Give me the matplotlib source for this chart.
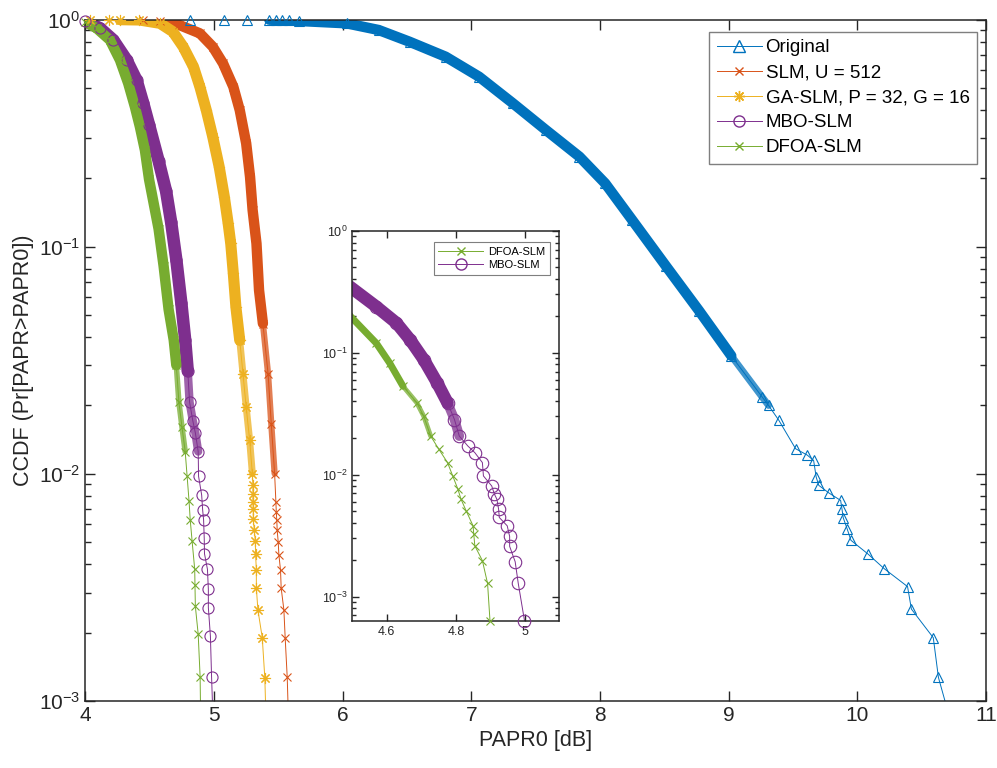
import numpy as np
import matplotlib
matplotlib.use('Agg')
from matplotlib import pyplot as plt
from matplotlib.lines import Line2D

plt.rcParams['font.family'] = ['Liberation Sans', 'DejaVu Sans']
plt.rcParams['mathtext.default'] = 'regular'

# CCDF curves (PAPR0 in dB, CCDF)
orig_x = [4.81, 5.08, 5.26, 5.43, 5.48, 5.53, 5.58, 5.66, 6.03, 6.28, 6.52, 6.80, 7.06, 7.32, 7.58, 7.84, 8.04,
          8.25, 8.51, 8.77, 9.02, 9.26, 9.31, 9.39, 9.52, 9.61, 9.66, 9.68, 9.70, 9.78, 9.87, 9.88,
          9.89, 9.92, 9.95, 10.08, 10.21, 10.39, 10.42, 10.59, 10.63, 10.78]
orig_y = [1.0, 1.0, 1.0, 0.998, 0.997, 0.995, 0.992, 0.985, 0.962, 0.899, 0.798, 0.686, 0.560, 0.429, 0.326, 0.249, 0.190,
          0.131, 0.0825, 0.0522, 0.0331, 0.0218, 0.0200, 0.0172, 0.0129, 0.0121, 0.01146, 0.00968, 0.0089, 0.00823, 0.00764, 0.00703,
          0.00641, 0.00574, 0.0051, 0.00445, 0.00382, 0.00319, 0.00254, 0.0019, 0.00127, 0.00063]

slm_x = [4.45, 4.58, 4.73, 4.89, 4.99, 5.07, 5.15, 5.20, 5.25, 5.28, 5.30, 5.33, 5.35, 5.38, 5.42,
         5.445, 5.471, 5.481, 5.484, 5.488, 5.491, 5.499, 5.504, 5.517, 5.522, 5.543, 5.553, 5.569, 5.585]
slm_y = [0.998, 0.985, 0.946, 0.869, 0.759, 0.641, 0.506, 0.399, 0.285, 0.203, 0.145, 0.1033, 0.0643, 0.0459, 0.0276,
         0.01663, 0.01002, 0.00751, 0.00679, 0.00624, 0.00564, 0.00501, 0.00441, 0.00376, 0.00314, 0.00252, 0.0019, 0.00127, 0.00063]

ga_x = [4.036, 4.186, 4.27, 4.42, 4.58, 4.68, 4.76, 4.84, 4.89, 4.94, 4.99, 5.04, 5.08, 5.11, 5.13,
        5.15, 5.17, 5.20, 5.225, 5.25, 5.277, 5.298, 5.302, 5.302, 5.302, 5.305, 5.305, 5.313, 5.321, 5.323,
        5.329, 5.329, 5.341, 5.375, 5.395, 5.41]
ga_y = [1.0, 1.0, 0.998, 0.995, 0.962, 0.884, 0.759, 0.620, 0.506, 0.399, 0.305, 0.225, 0.166, 0.1265, 0.1033,
        0.0762, 0.0543, 0.0387, 0.0276, 0.01968, 0.01405, 0.01002, 0.0089, 0.00818, 0.00751, 0.00698, 0.00631, 0.00564, 0.00506, 0.00442,
        0.00379, 0.00315, 0.00252, 0.0019, 0.00126, 0.00063]

mbo_x = [4.0, 4.114, 4.217, 4.321, 4.398, 4.450, 4.495, 4.569, 4.628, 4.667, 4.707, 4.746, 4.776, 4.796, 4.810,
         4.835, 4.855, 4.877, 4.880, 4.904, 4.912, 4.919, 4.924, 4.926, 4.949, 4.956, 4.956, 4.972, 4.981, 4.999]
mbo_y = [0.985, 0.915, 0.812, 0.663, 0.541, 0.428, 0.344, 0.239, 0.175, 0.128, 0.0877, 0.0565, 0.0388, 0.0283, 0.0207,
         0.01714, 0.01514, 0.01254, 0.00975, 0.00807, 0.0069, 0.00628, 0.0052, 0.00445, 0.0038, 0.00311, 0.00258, 0.00193, 0.00128, 0.000635]

dfoa_x = [4.0, 4.088, 4.191, 4.269, 4.333, 4.385, 4.424, 4.463, 4.495, 4.569, 4.608, 4.647, 4.687, 4.707, 4.727,
          4.751, 4.776, 4.791, 4.806, 4.815, 4.830, 4.850, 4.852, 4.855, 4.877, 4.892, 4.899]
dfoa_y = [0.975, 0.915, 0.812, 0.663, 0.524, 0.413, 0.337, 0.266, 0.198, 0.120, 0.0824, 0.0530, 0.0388, 0.0301, 0.0207,
          0.0161, 0.01254, 0.00975, 0.00759, 0.00628, 0.00504, 0.0038, 0.00325, 0.00261, 0.00197, 0.00128, 0.000635]

labels = ['Original', 'SLM, U = 512', 'GA-SLM, P = 32, G = 16', 'MBO-SLM', 'DFOA-SLM']
inset_xticks = [4.6, 4.8, 5.0]
inset_xticklabels = ['4.6', '4.8', '5']

blue, red, yellow, purple, green = '#0072BD', '#D95319', '#EDB120', '#7E2F8E', '#77AC30'
asterisk = (8, 2, 0)
txt = '#262626'


def draw(ax, x, y, color, marker, ms, band, tail, xlim, ylim):
    x = np.array(x)
    y = np.array(y)
    ax.plot(x, y, '-', color=color, lw=0.7, zorder=2)
    # dense runs of markers show as a solid band, thinning out lower down
    m = (y >= tail[0]) & (y < 0.999)
    ax.plot(x[m], y[m], '-', color=color, lw=tail[1], alpha=0.75, solid_capstyle='round', zorder=2)
    m = (y >= band[0]) & (y < 0.999)
    ax.plot(x[m], y[m], '-', color=color, lw=band[1], solid_capstyle='round', zorder=2)
    inside = (y >= ylim[0]) & (y <= ylim[1]) & (x >= xlim[0]) & (x <= xlim[1])
    ax.plot(x[inside], y[inside], ls='none', marker=marker, ms=ms, mfc='none', mec=color,
            mew=0.8, clip_on=False, zorder=3)


def style(ax, fs, major, minor):
    for s in ax.spines.values():
        s.set_color(txt)
        s.set_linewidth(1.1)
    ax.tick_params(which='both', direction='in', top=True, right=True, colors=txt,
                   labelsize=fs, width=1.0)
    ax.tick_params(which='major', length=major)
    ax.tick_params(which='minor', length=minor)


fig = plt.figure(figsize=(9.97, 7.68), dpi=100)
ax = fig.add_axes([0.0856, 0.0872, 0.9034, 0.8874])
xl, yl = (4, 11), (1e-3, 1)
draw(ax, orig_x, orig_y, blue, '^', 7, (0.03, 7.5), (0.02, 5), xl, yl)
draw(ax, slm_x, slm_y, red, 'x', 6, (0.03, 7.5), (0.009, 4.5), xl, yl)
draw(ax, ga_x, ga_y, yellow, asterisk, 8, (0.03, 8), (0.009, 5), xl, yl)
draw(ax, mbo_x, mbo_y, purple, 'o', 8, (0.025, 9), (0.011, 6), xl, yl)
draw(ax, dfoa_x, dfoa_y, green, 'x', 6, (0.03, 7.5), (0.011, 4), xl, yl)
ax.set_yscale('log')
ax.set_xlim(*xl)
ax.set_ylim(*yl)
ax.set_xticks(range(4, 12))
style(ax, 15, 7, 4)
ax.set_xlabel('PAPR0 [dB]', fontsize=15.5, color=txt)
ax.set_ylabel('CCDF (Pr[PAPR>PAPR0])', fontsize=15.5, color=txt)

handles = [Line2D([], [], color=c, lw=0.7, marker=mk, ms=s, mfc='none', mec=c)
           for c, mk, s in [(blue, '^', 8), (red, 'x', 6), (yellow, asterisk, 8), (purple, 'o', 8), (green, 'x', 6)]]
leg = ax.legend(handles, labels, loc='upper right', bbox_to_anchor=(0.99, 0.982), borderaxespad=0,
                fontsize=13.5, fancybox=False, framealpha=1, edgecolor='#7f7f7f', handlelength=2.4,
                borderpad=0.4, labelspacing=0.42, handletextpad=0.2)
leg.get_frame().set_linewidth(1.0)

# zoomed inset
ix = fig.add_axes([0.3534, 0.1914, 0.2076, 0.5082])
ixl, iyl = (4.5, 5.1), (6.3e-4, 1)
draw(ix, dfoa_x, dfoa_y, green, 'x', 6, (0.05, 5), (0.02, 3.5), ixl, iyl)
draw(ix, mbo_x, mbo_y, purple, 'o', 9, (0.03, 9), (0.02, 7), ixl, iyl)
ix.set_yscale('log')
ix.set_xlim(*ixl)
ix.set_ylim(*iyl)
ix.set_xticks(inset_xticks)
ix.set_xticklabels(inset_xticklabels)
style(ix, 9, 5, 3)
ih = [Line2D([], [], color=green, lw=0.7, marker='x', ms=6, mfc='none', mec=green),
      Line2D([], [], color=purple, lw=0.7, marker='o', ms=8, mfc='none', mec=purple)]
il = ix.legend(ih, ['DFOA-SLM', 'MBO-SLM'], loc='upper right', bbox_to_anchor=(0.955, 0.97), borderaxespad=0,
               fontsize=8, fancybox=False, framealpha=1, edgecolor='#7f7f7f', handlelength=4.0,
               borderpad=0.4, labelspacing=0.3, handletextpad=0.5)
il.get_frame().set_linewidth(0.8)

fig.savefig('out.png', dpi=100)
